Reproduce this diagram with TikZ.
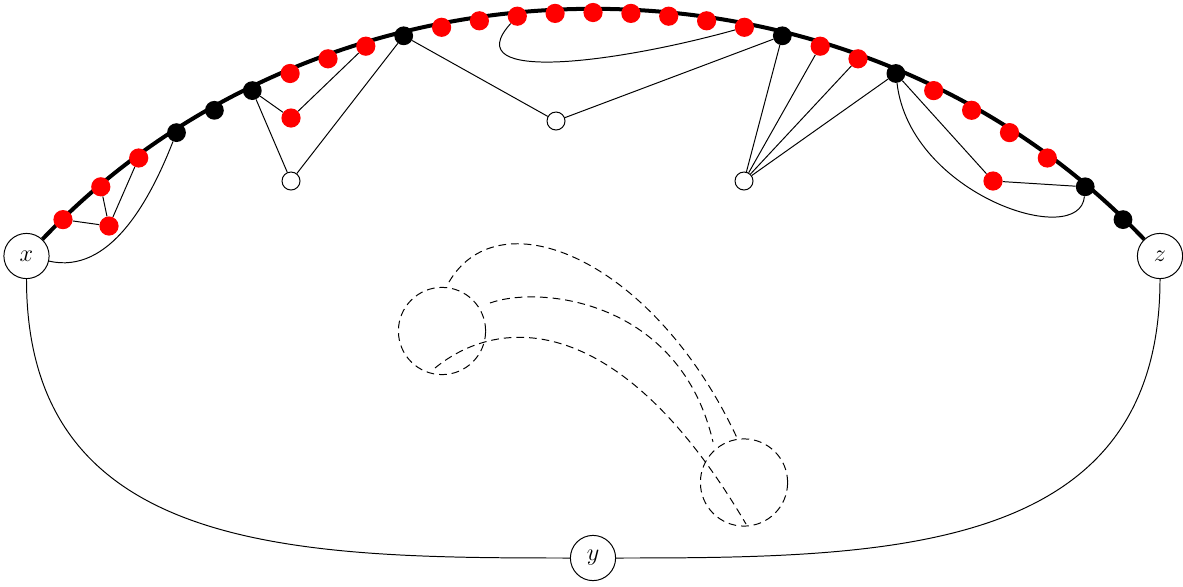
\documentclass[tikz,border=0pt]{standalone}
\begin{document}
\begin{tikzpicture}[x=0.025cm,y=0.025cm,
  thinline/.style={line width=0.7pt},
  thickline/.style={line width=2.85pt},
  bignode/.style={circle,draw,line width=0.7pt,fill=white,minimum size=1.13cm,inner sep=0pt,font=\fontsize{19}{22}\selectfont},
  rdot/.style={circle,fill=red,minimum size=0.48cm,inner sep=0pt},
  bdot/.style={circle,fill=black,minimum size=0.47cm,inner sep=0pt},
  wdot/.style={circle,draw,fill=white,line width=0.7pt,minimum size=0.45cm,inner sep=0pt},
  dcirc/.style={circle,draw,line width=0.7pt,dash pattern=on 5.5pt off 3.5pt,minimum size=2.18cm,inner sep=0pt},
  dline/.style={line width=0.7pt,dash pattern=on 5.5pt off 3.5pt}]
\useasboundingbox (0,0) rectangle (1183,-586);
% main nodes
\node[bignode] (x) at (26.5,-256) {$x$};
\node[bignode] (z) at (1160,-256) {$z$};
\node[bignode] (y) at (593,-558) {$y$};
% thick arc
\draw[thickline] (x) .. controls (334.8,68) and (851.7,68) .. (z);
% dots on the arc
\foreach \n/\px/\py/\s in {0/63/219.6/rdot,1/100.8/186.8/rdot,2/138.7/158/rdot,3/176.5/132.6/bdot,
  4/214.4/110.3/bdot,5/252.3/90.6/bdot,6/290.1/73.5/rdot,7/328/58.8/rdot,8/365.8/46.2/rdot,
  9/403.7/35.8/bdot,10/441.6/27.3/rdot,11/479.4/20.8/rdot,12/517.3/16.2/rdot,13/555.1/13.4/rdot,
  14/593/12.5/rdot,15/630.9/13.4/rdot,16/668.7/16.2/rdot,17/706.6/20.8/rdot,18/744.4/27.3/rdot,
  19/782.3/35.8/bdot,20/820.2/46.2/rdot,21/858/58.8/rdot,22/895.9/73.5/bdot,23/933.7/90.6/rdot,
  24/971.6/110.3/rdot,25/1009.5/132.6/rdot,26/1047.3/158/rdot,27/1085.2/186.8/bdot,28/1123/219.6/bdot}
  {\node[\s] (d\n) at (\px,-\py) {};}
% extra dots
\node[rdot] (e1) at (109,-226) {};
\node[rdot] (e2) at (291,-118) {};
\node[rdot] (e3) at (993,-181) {};
\node[wdot] (w1) at (291,-181) {};
\node[wdot] (w2) at (556,-121) {};
\node[wdot] (w3) at (744,-181) {};
% thin edges
\draw[thinline] (d0) -- (e1);
\draw[thinline] (d1) -- (e1);
\draw[thinline] (d2) -- (e1);
\draw[thinline] (x) .. controls (110,-275) and (150,-200) .. (d3);
\draw[thinline] (d5) -- (e2);
\draw[thinline] (d5) -- (w1);
\draw[thinline] (e2) -- (d8);
\draw[thinline] (w1) -- (d9);
\draw[thinline] (d9) -- (w2);
\draw[thinline] (w2) -- (d19);
\draw[thinline] (d12) .. controls (455,-85) and (620,-62) .. (d18);
\draw[thinline] (w3) -- (d19);
\draw[thinline] (w3) -- (d20);
\draw[thinline] (w3) -- (d21);
\draw[thinline] (w3) -- (d22);
\draw[thinline] (d22) -- (e3);
\draw[thinline] (e3) -- (d27);
\draw[thinline] (d22) .. controls (910,-195) and (1080,-250) .. (d27);
\draw[thinline] (x) to[out=-90,in=180,looseness=1.15] (y);
\draw[thinline] (z) to[out=-90,in=0,looseness=1.15] (y);
% dashed part
\node[dcirc] (c1) at (442,-331) {};
\node[dcirc] (c2) at (744,-482.5) {};
\coordinate (t1) at (449,-282);
\coordinate (t2) at (738,-440);
\coordinate (m1) at (490,-303);
\coordinate (m2) at (713,-442);
\coordinate (l1) at (435,-368);
\coordinate (l2) at (746,-524);
\draw[dline] (t1) .. controls (500,-195) and (655,-260) .. (t2);
\draw[dline] (m1) .. controls (540,-285) and (680,-300) .. (m2);
\draw[dline] (l1) .. controls (500,-315) and (620,-310) .. (l2);
\end{tikzpicture}
\end{document}
